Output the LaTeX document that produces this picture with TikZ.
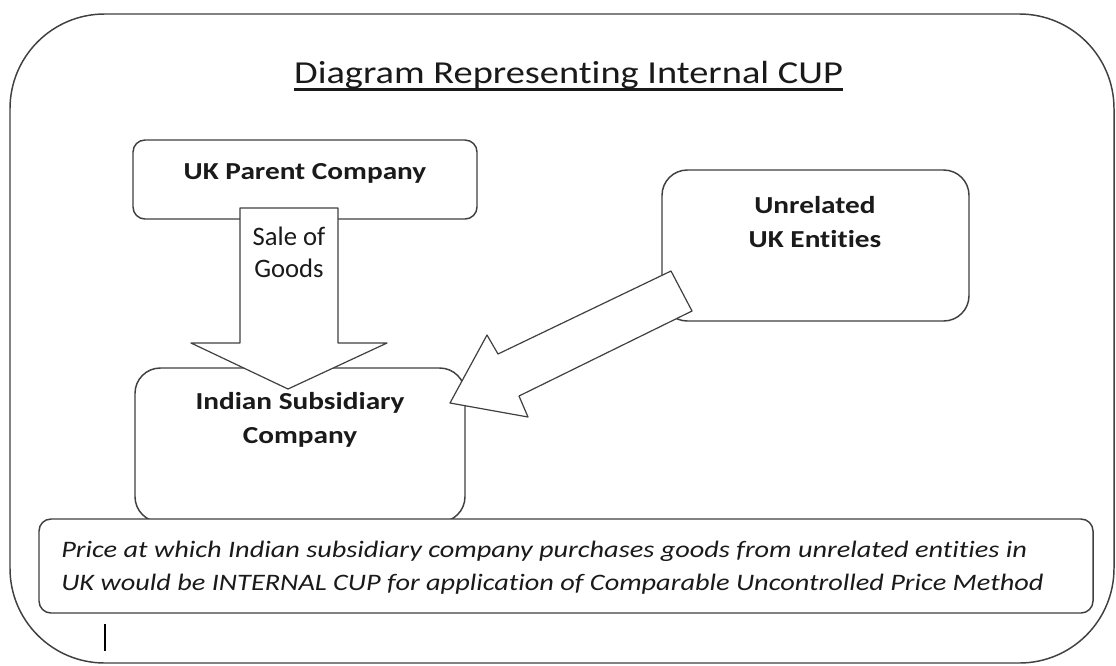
\documentclass[tikz,border=0pt]{standalone}
\usepackage{fontspec}
\setmainfont{Carlito}[Ligatures=NoCommon]
\newfontfamily\widefont{Carlito}[FakeStretch=1.2,Ligatures=NoCommon]
\usetikzlibrary{calc}

\begin{document}
\begin{tikzpicture}[x=0.75pt,y=-0.75pt,line join=round,
  box/.style={draw=edge,line width=1.1pt,fill=white},
  blockarrow/.style={draw=edge,line width=0.9pt,fill=white},
  boxtext/.style={inner sep=0pt,anchor=base,align=center,
    font=\widefont\bfseries\fontsize{18.3}{25.5}\selectfont}]
  \definecolor{edge}{HTML}{404040}
  \definecolor{ink}{HTML}{1A1A1A}

  \useasboundingbox (0,0) rectangle (1116,665);

  % frame round everything
  \draw[box,rounded corners=71pt] (10,14) rectangle (1114,663);

  % the three parties
  \draw[box,rounded corners=9pt] (133,140) rectangle (477,219);
  \draw[box,rounded corners=19pt] (662,170) rectangle (969,321);
  \draw[box,rounded corners=19pt] (135,368) rectangle (465,522);

  % note at the bottom
  \draw[box,rounded corners=9pt] (39,519) rectangle (1093,613);

  % block arrows (drawn over the boxes)
  \draw[blockarrow] (240,208) -- (240,343) -- (191,343) -- (288,389)
    -- (387,343) -- (338,343) -- (338,208) -- cycle;
  \draw[blockarrow] (671,271) -- (498,354) -- (487,335) -- (450,403)
    -- (528,417) -- (519,396) -- (692,311) -- cycle;

  % title
  \node[inner sep=0pt,anchor=base,ink,font=\widefont\fontsize{24}{28}\selectfont]
    (title) at (568.5,83) {Diagram Representing Internal CUP};
  \draw[ink,line width=2.2pt] ($(title.base west)+(0,6.5)$) -- ($(title.base east)+(0,6.5)$);

  % box texts (base = last line)
  \node[boxtext,ink] (parent) at (305,179) {UK Parent Company};
  \node[boxtext,ink] (unrel) at (815,247) {Unrelated\\UK Entities};
  \node[boxtext,ink] (indsub) at (300,443) {Indian Subsidiary\\Company};
  \node[inner sep=0pt,anchor=base,align=center,ink,
    font=\fontsize{20}{24}\selectfont] (sale) at (289,277) {Sale of\\Goods};

  % note text
  \node[inner sep=0pt,anchor=base west,align=left,ink,
    font=\widefont\itshape\fontsize{17.7}{24.5}\selectfont] (note) at (61,590)
    {Price at which Indian subsidiary company purchases goods from unrelated entities in\\
     UK would be INTERNAL CUP for application of Comparable Uncontrolled Price Method};

  % stray text cursor
  \coordinate (cur) at (105,624);
  \draw[black,line width=1.6pt] (cur) -- ++(0,27);
\end{tikzpicture}
\end{document}
